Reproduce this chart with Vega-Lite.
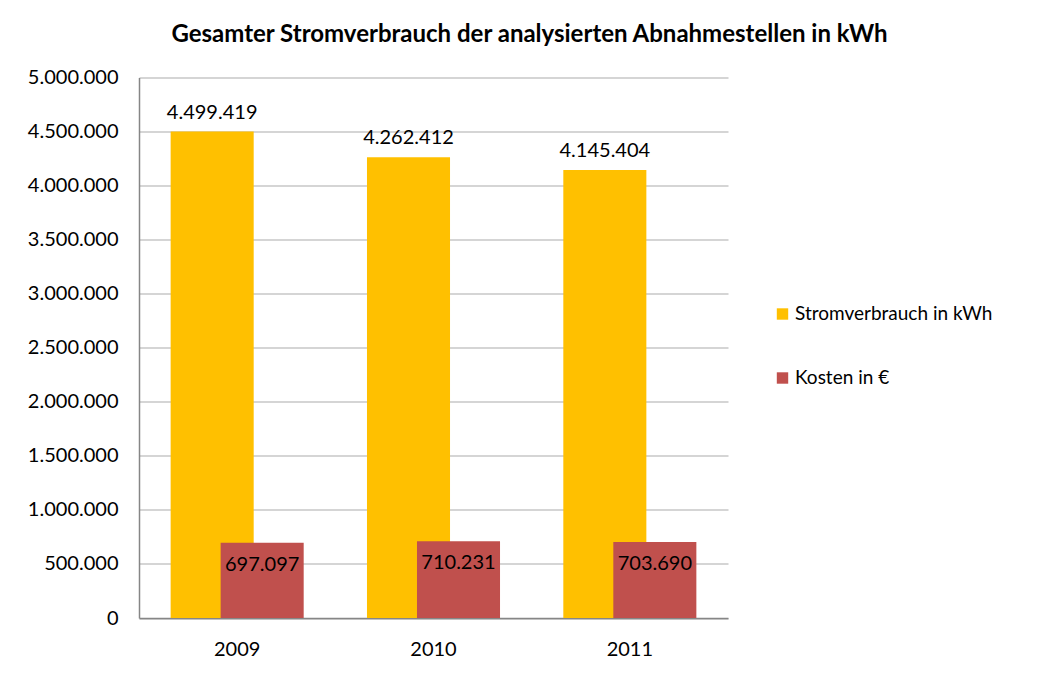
{
  "$schema": "https://vega.github.io/schema/vega-lite/v6.json",
  "autosize": {"type": "none"},
  "padding": {"left": 139, "top": 77.5, "right": 309, "bottom": 55},
  "width": 589,
  "height": 540.5,
  "background": "white",
  "title": {
    "text": "Gesamter Stromverbrauch der analysierten Abnahmestellen in kWh",
    "font": "Lato",
    "fontSize": 24,
    "fontWeight": "bold",
    "color": "#000000",
    "anchor": "middle",
    "dx": 96,
    "offset": 2,
    "baseline": "alphabetic"
  },
  "data": {
    "values": [
      {"year": "2009", "series": "Stromverbrauch in kWh", "value": 4499419},
      {"year": "2010", "series": "Stromverbrauch in kWh", "value": 4262412},
      {"year": "2011", "series": "Stromverbrauch in kWh", "value": 4145404},
      {"year": "2009", "series": "Kosten in €", "value": 697097},
      {"year": "2010", "series": "Kosten in €", "value": 710231},
      {"year": "2011", "series": "Kosten in €", "value": 703690}
    ]
  },
  "encoding": {
    "x": {
      "field": "year",
      "type": "nominal",
      "scale": {"paddingInner": 0, "paddingOuter": 0},
      "axis": {
        "title": null,
        "labelAngle": 0,
        "labelFont": "Lato",
        "labelFontSize": 20,
        "labelColor": "#000000",
        "labelPadding": 21,
        "ticks": false,
        "domainColor": "#868686",
        "domainWidth": 1.5,
        "grid": false
      }
    },
    "y": {
      "field": "value",
      "type": "quantitative",
      "scale": {"domain": [0, 5000000], "nice": false},
      "axis": {
        "title": null,
        "values": [0, 500000, 1000000, 1500000, 2000000, 2500000, 3000000, 3500000, 4000000, 4500000, 5000000],
        "format": ",d",
        "labelFont": "Lato",
        "labelFontSize": 20,
        "labelColor": "#000000",
        "labelPadding": 21,
        "ticks": false,
        "domainColor": "#868686",
        "domainWidth": 1.5,
        "gridColor": "#ababab",
        "gridWidth": 1.2
      }
    }
  },
  "layer": [
    {
      "transform": [{"filter": "datum.series === 'Stromverbrauch in kWh'"}],
      "layer": [
        {
          "mark": {"type": "bar", "width": {"band": 0.423}, "xOffset": -25},
          "encoding": {
            "color": {
              "field": "series",
              "type": "nominal",
              "scale": {"domain": ["Stromverbrauch in kWh", "Kosten in €"], "range": ["#FFC000", "#C0504D"]},
              "legend": {
                "title": null,
                "orient": "none",
                "legendX": 634,
                "legendY": 227,
                "symbolType": "square",
                "symbolSize": 130,
                "symbolStrokeWidth": 0,
                "labelFont": "Lato",
                "labelFontSize": 19,
                "labelLimit": 400,
                "labelColor": "#000000",
                "labelOffset": 3,
                "rowPadding": 44
              }
            }
          }
        },
        {
          "mark": {"type": "text", "dx": -25, "dy": -13, "baseline": "alphabetic", "font": "Lato", "fontSize": 20, "color": "#000000"},
          "encoding": {"text": {"field": "value", "type": "quantitative", "format": ",d"}}
        }
      ]
    },
    {
      "transform": [{"filter": "datum.series === 'Kosten in €'"}],
      "layer": [
        {
          "mark": {"type": "bar", "width": {"band": 0.423}, "xOffset": 25},
          "encoding": {
            "color": {"field": "series", "type": "nominal"}
          }
        },
        {
          "mark": {"type": "text", "dx": 25, "dy": 28, "baseline": "alphabetic", "font": "Lato", "fontSize": 20, "color": "#000000"},
          "encoding": {"text": {"field": "value", "type": "quantitative", "format": ",d"}}
        }
      ]
    }
  ],
  "config": {
    "locale": {"number": {"decimal": ",", "thousands": ".", "grouping": [3], "currency": ["", " €"]}},
    "view": {"stroke": null}
  }
}
